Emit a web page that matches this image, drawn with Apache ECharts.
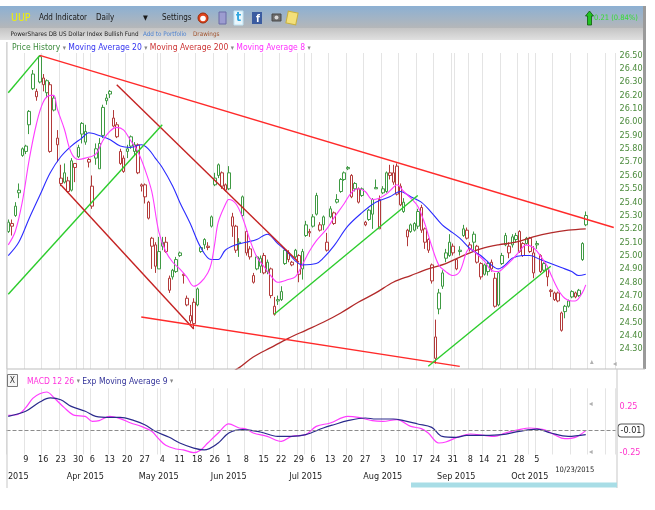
<!DOCTYPE html>
<html>
<head>
<meta charset="utf-8">
<script src="https://cdn.jsdelivr.net/npm/echarts@6/dist/echarts.min.js"></script>
<style>
  html, body { margin: 0; padding: 0; background: #fff; }
  #chart { width: 655px; height: 510px; }
</style>
</head>
<body>
<div id="chart"></div>
<script>
const FONT = '"DejaVu Sans Condensed", "DejaVu Sans", sans-serif';

// trading calendar: from the first bar, 166 priced days + 8 empty days on the right
const firstDay = '2015-03-02';
const totalDays = 174;
const holidays = ['2015-04-03', '2015-05-25', '2015-07-03', '2015-09-07'];
const monthNames = ['Jan', 'Feb', 'Mar', 'Apr', 'May', 'Jun', 'Jul', 'Aug', 'Sep', 'Oct', 'Nov', 'Dec'];

// UUP daily bars: [open, close, low, high]
const candles = [
  [25.18,25.25,25.17,25.27],[25.22,25.24,25.15,25.27],[25.30,25.37,25.29,25.40],[25.49,25.47,25.43,25.54],[25.75,25.80,25.74,25.81],
  [25.78,25.82,25.76,25.83],[25.98,26.08,25.91,26.09],[26.25,26.36,26.24,26.39],[26.19,26.23,26.16,26.25],[26.30,26.49,26.29,26.50],
  [26.33,26.28,26.23,26.36],[26.22,26.31,26.18,26.32],[26.28,25.78,25.77,26.30],[26.09,26.18,26.08,26.20],[25.88,25.83,25.70,25.94],
  [25.58,25.54,25.52,25.68],[25.55,25.62,25.54,25.69],[25.48,25.56,25.47,25.59],[25.49,25.71,25.48,25.73],[25.69,25.66,25.55,25.69],
  [25.74,25.81,25.73,25.83],[25.99,25.91,25.84,26.00],[25.85,25.93,25.83,25.98],[25.70,25.72,25.66,25.73],[25.37,25.52,25.35,25.60],
  [25.73,25.80,25.68,25.84],[25.65,25.84,25.65,25.88],[25.90,26.11,25.88,26.13],[26.16,26.18,26.13,26.21],[26.21,26.23,26.18,26.24],
  [26.03,25.97,25.96,26.09],[25.98,25.89,25.88,26.00],[25.78,25.69,25.68,25.80],[25.73,25.63,25.62,25.75],[25.78,25.80,25.73,25.83],
  [25.89,25.82,25.80,25.90],[25.78,25.83,25.75,25.85],[25.83,25.62,25.61,25.84],[25.53,25.52,25.48,25.54],[25.53,25.44,25.39,25.54],
  [25.40,25.28,25.27,25.41],[25.13,25.07,24.90,25.14],[25.08,24.92,24.87,25.10],[24.90,25.03,24.90,25.14],[25.07,25.10,25.04,25.14],
  [25.10,25.03,25.02,25.14],[24.83,24.74,24.72,24.85],[24.84,24.89,24.82,24.90],[24.88,24.97,24.87,24.99],[25.02,25.00,24.99,25.03],
  [24.86,24.85,24.79,24.87],[24.68,24.63,24.62,24.70],[24.51,24.55,24.49,24.63],[24.65,24.49,24.45,24.68],[24.63,24.75,24.62,24.76],
  [25.06,25.03,25.02,25.07],[25.08,25.12,25.05,25.13],[25.07,25.06,25.04,25.10],[25.22,25.29,25.21,25.30],[25.53,25.58,25.52,25.62],
  [25.68,25.60,25.58,25.69],[25.62,25.52,25.50,25.63],[25.53,25.49,25.48,25.54],[25.50,25.62,25.49,25.67],[25.29,25.22,25.14,25.32],
  [25.22,25.04,25.02,25.23],[25.09,25.10,24.99,25.13],[25.44,25.30,25.29,25.45],[25.18,25.02,25.00,25.19],[25.05,24.99,24.97,25.07],
  [24.80,24.85,24.79,24.87],[24.99,24.90,24.89,25.00],[24.98,24.92,24.87,25.00],[25.00,24.87,24.86,25.02],[24.88,24.95,24.86,24.97],
  [24.90,24.70,24.68,24.91],[24.56,24.62,24.55,24.69],[24.66,24.67,24.63,24.70],[24.67,24.73,24.66,24.77],[24.94,25.04,24.93,25.05],
  [25.02,24.97,24.95,25.04],[24.95,24.93,24.92,24.96],[25.04,24.99,24.98,25.05],[25.00,24.86,24.80,25.01],[24.90,25.03,24.82,25.05],
  [25.15,25.23,25.14,25.26],[25.17,25.18,25.14,25.20],[25.22,25.29,25.21,25.31],[25.45,25.31,25.30,25.47],[25.23,25.19,25.18,25.25],
  [25.23,25.29,25.19,25.30],[25.04,25.10,25.03,25.17],[25.29,25.35,25.28,25.37],[25.24,25.32,25.23,25.33],[25.40,25.42,25.39,25.46],
  [25.48,25.57,25.47,25.58],[25.57,25.62,25.56,25.63],[25.66,25.65,25.64,25.67],[25.60,25.44,25.43,25.61],[25.54,25.50,25.48,25.55],
  [25.50,25.40,25.39,25.51],[25.45,25.50,25.44,25.51],[25.23,25.25,25.22,25.26],[25.34,25.27,25.26,25.35],[25.31,25.42,25.20,25.43],
  [25.51,25.50,25.50,25.57],[25.20,25.42,25.20,25.45],[25.47,25.50,25.46,25.52],[25.48,25.62,25.47,25.63],[25.62,25.60,25.57,25.68],
  [25.62,25.55,25.53,25.68],[25.67,25.46,25.45,25.69],[25.52,25.38,25.37,25.54],[25.33,25.40,25.32,25.43],[25.19,25.14,25.07,25.20],
  [25.23,25.18,25.17,25.24],[25.19,25.24,25.18,25.25],[25.22,25.33,25.20,25.35],[25.36,25.19,25.17,25.38],[25.20,25.10,25.05,25.21],
  [25.12,25.04,25.02,25.13],[24.93,24.81,24.79,24.94],[24.23,24.39,24.19,24.52],[24.60,24.72,24.56,24.75],[24.77,24.87,24.75,24.89],
  [24.98,25.02,24.95,25.05],[25.00,25.10,24.99,25.16],[25.02,25.07,25.00,25.09],[24.97,24.90,24.89,24.98],[25.03,25.04,25.00,25.07],
  [25.20,25.15,25.14,25.23],[25.19,25.13,25.12,25.21],[25.05,25.08,25.03,25.10],[25.16,25.10,25.04,25.18],[25.07,24.95,24.94,25.08],
  [24.94,24.84,24.82,24.95],[24.93,24.86,24.85,24.94],[24.88,24.94,24.85,24.96],[24.95,24.90,24.88,24.97],[24.83,24.62,24.61,24.87],
  [24.63,24.87,24.62,24.88],[24.94,25.00,24.93,25.02],[25.08,25.15,25.07,25.17],[25.02,25.07,24.98,25.10],[25.08,25.14,25.06,25.16],
  [25.12,25.15,25.10,25.17],[25.18,25.03,25.02,25.19],[25.09,25.00,24.99,25.10],[25.09,25.13,25.08,25.14],[25.13,25.03,25.02,25.14],
  [24.87,25.02,24.83,25.07],[25.08,25.09,25.05,25.11],[25.00,24.88,24.87,25.01],[24.94,24.89,24.88,24.95],[24.90,24.84,24.77,24.91],
  [24.74,24.73,24.69,24.75],[24.72,24.67,24.66,24.73],[24.72,24.66,24.65,24.73],[24.57,24.44,24.43,24.58],[24.58,24.62,24.53,24.63],
  [24.62,24.66,24.61,24.67],[24.69,24.73,24.68,24.74],[24.69,24.72,24.68,24.73],[24.70,24.74,24.69,24.75],[24.97,25.09,24.96,25.10],
  [25.23,25.30,25.22,25.33]
];

// moving averages: [day index, value]
const ma20Pts = [[0,25.00],[3,25.10],[6,25.28],[9,25.45],[12,25.62],[15,25.74],[18,25.82],[21,25.88],[23,25.92],[26,25.90],
  [29,25.87],[32,25.82],[35,25.81],[38,25.83],[40,25.80],[42,25.73],[44,25.66],[47,25.52],[49,25.40],[52,25.24],[55,25.06],
  [58,24.97],[60,24.97],[62,25.04],[65,25.08],[68,25.10],[71,25.12],[74,25.16],[77,25.09],[80,25.02],[82,24.96],[84,24.93],
  [88,24.94],[90,24.98],[93,25.07],[97,25.22],[101,25.32],[105,25.40],[109,25.44],[112,25.48],[115,25.44],[118,25.40],
  [121,25.32],[124,25.23],[126,25.19],[129,25.13],[132,25.05],[135,25.00],[138,24.93],[140,24.90],[142,24.93],[144,24.98],
  [147,25.00],[149,25.00],[152,24.97],[155,24.94],[158,24.91],[161,24.88],[163,24.85],[165,24.86]];
const ma8Pts = [[0,25.08],[2,25.18],[4,25.40],[6,25.72],[8,25.98],[10,26.15],[12,26.20],[13,26.20],[14,26.10],[16,25.95],
  [18,25.77],[20,25.72],[22,25.73],[25,25.76],[27,25.86],[29,25.93],[31,25.96],[33,25.94],[35,25.86],[37,25.78],[39,25.65],
  [41,25.48],[43,25.18],[45,25.03],[47,24.95],[49,24.90],[51,24.84],[53,24.77],[55,24.80],[57,24.87],[58,24.94],[59,25.09],
  [60,25.25],[62,25.38],[63,25.42],[65,25.39],[67,25.28],[69,25.12],[71,24.99],[73,24.92],[75,24.85],[77,24.80],[80,24.82],
  [82,24.84],[84,24.93],[86,25.03],[88,25.11],[91,25.20],[93,25.28],[96,25.39],[98,25.47],[100,25.50],[102,25.48],[104,25.42],
  [106,25.43],[108,25.46],[110,25.51],[111,25.53],[113,25.48],[115,25.43],[117,25.37],[119,25.24],[121,25.07],[123,24.93],
  [125,24.88],[127,24.85],[129,24.88],[131,25.03],[132,25.05],[134,25.01],[136,24.96],[138,24.89],[140,24.88],[142,24.92],
  [144,24.97],[146,25.03],[148,25.08],[150,25.06],[152,25.00],[154,24.92],[155,24.86],[157,24.75],[159,24.68],[161,24.66],
  [162,24.66],[164,24.72],[165,24.78]];
const ma200Pts = [[62,24.10],[66,24.16],[70,24.24],[75,24.31],[80,24.38],[85,24.44],[90,24.50],[95,24.57],[100,24.65],
  [105,24.72],[110,24.80],[115,24.85],[120,24.90],[125,24.94],[130,25.00],[135,25.05],[140,25.08],[145,25.10],[150,25.14],
  [155,25.17],[160,25.19],[165,25.20]];

// MACD 12 26 and its 9-day EMA: [day index, value]
const macdPts = [[0,0.155],[3,0.17],[5,0.24],[7,0.34],[9,0.39],[11,0.41],[13,0.35],[16,0.24],[19,0.155],[22,0.145],
  [24,0.09],[26,0.098],[29,0.145],[32,0.12],[35,0.073],[38,0.036],[41,-0.018],[43,-0.10],[45,-0.17],[48,-0.21],[50,-0.22],
  [53,-0.25],[55,-0.22],[57,-0.145],[60,-0.036],[63,0.062],[66,0.018],[68,0.007],[70,-0.036],[74,-0.073],[78,-0.127],
  [81,-0.073],[85,-0.054],[88,0.036],[92,0.073],[97,0.145],[100,0.134],[104,0.098],[107,0.09],[111,0.109],[115,0.036],
  [118,0.011],[120,-0.036],[123,-0.145],[125,-0.134],[129,-0.073],[132,-0.047],[136,-0.062],[139,-0.073],[142,-0.036],
  [146,0],[149,0.018],[153,0],[156,-0.054],[159,-0.098],[162,-0.084],[165,-0.01]];
const signalPts = [[0,0.145],[5,0.20],[9,0.30],[12,0.345],[15,0.326],[18,0.253],[22,0.20],[25,0.145],[29,0.134],[32,0.134],
  [36,0.098],[39,0.054],[42,-0.018],[46,-0.083],[49,-0.145],[53,-0.20],[56,-0.22],[60,-0.145],[63,-0.036],[67,0],[72,-0.025],
  [77,-0.073],[81,-0.073],[85,-0.054],[90,0.018],[93,0.054],[97,0.098],[102,0.127],[105,0.116],[110,0.116],[113,0.098],
  [117,0.062],[121,0.025],[124,-0.073],[128,-0.083],[131,-0.062],[136,-0.062],[141,-0.054],[146,-0.018],[151,0.007],
  [155,-0.036],[160,-0.073],[165,-0.054]];

// hand drawn trend lines: [day index, price] at each end
const trendGreenA = [[0,26.22],[9,26.50]];
const trendRedTop = [[9,26.50],[173,25.21]];
const trendRedDiagA = [[31,26.28],[83,24.95]];
const trendGreenB = [[0,24.71],[44,25.98]];
const trendRedDiagB = [[15,25.53],[53,24.45]];
const trendRedLow = [[38,24.54],[129,24.17]];
const trendGreenC = [[76,24.56],[117,25.45]];
const trendGreenD = [[120,24.17],[155,24.92]];

// ---- calendar ----
const dates = [];
for (let d = new Date(firstDay + 'T00:00:00Z'); dates.length < totalDays; d.setUTCDate(d.getUTCDate() + 1)) {
  const iso = d.toISOString().slice(0, 10);
  const wd = d.getUTCDay();
  if (wd !== 0 && wd !== 6 && !holidays.includes(iso)) dates.push(iso);
}
const info = dates.map((s, i) => {
  const cur = new Date(s + 'T00:00:00Z');
  const prev = i ? new Date(dates[i - 1] + 'T00:00:00Z') : null;
  return {
    day: cur.getUTCDate(), month: cur.getUTCMonth(), year: cur.getUTCFullYear(),
    weekStart: !prev || cur.getUTCDay() <= prev.getUTCDay(),
    monthStart: !prev || cur.getUTCMonth() !== prev.getUTCMonth()
  };
});
const lastIdx = candles.length - 1;
const lastClose = candles[lastIdx][1];
const lastMacd = macdPts[macdPts.length - 1][1];

const gridLineAt = i => info[i].weekStart || info[i].monthStart;
const dayLabelAt = i => (info[i].weekStart && i > 0 && i < lastIdx - 10) || i === lastIdx;
const monthLabelAt = i => info[i].monthStart && i <= lastIdx;
const dayLabel = (v, i) => {
  if (i === lastIdx) {
    const t = info[i];
    return '{s|' + (t.month + 1) + '/' + t.day + '/' + t.year + '}';
  }
  return String(info[i].day);
};
const monthLabel = (v, i) => {
  const t = info[i];
  if (!monthLabelAt(i)) return '';
  return i === 0 ? '{c|' + t.year + '}' : monthNames[t.month] + ' ' + t.year;
};

// hollow = closed above open, colour = versus previous close
const candleData = candles.map((c, i) => {
  const prevClose = i ? candles[i - 1][1] : c[0];
  const up = c[1] >= prevClose;
  const fill = up ? '#1f7a22' : '#8b0a0a';
  const edge = up ? '#3f9a43' : '#b23a3a';
  return { value: c, itemStyle: { color: '#ffffff', color0: fill, borderColor: edge, borderColor0: fill } };
});

function maLine(name, pts, color, width) {
  return {
    name, type: 'line', xAxisIndex: 0, yAxisIndex: 0, data: pts, smooth: 0.35,
    symbol: 'none', z: 3, lineStyle: { color, width }
  };
}
function trendLine(pts, color, dots) {
  return {
    type: 'line', xAxisIndex: 0, yAxisIndex: 0, z: 4, symbol: 'emptyCircle', symbolSize: 5,
    itemStyle: { color: '#999' }, lineStyle: { color, width: 1.4 },
    data: pts.map((p, k) => ({ value: p, symbol: dots[k] ? 'emptyCircle' : 'none' }))
  };
}

const chart = echarts.init(document.getElementById('chart'));

const grad = (a, b) => new echarts.graphic.LinearGradient(0, 0, 0, 1, [{ offset: 0, color: a }, { offset: 1, color: b }]);
const text = (x, y, t, fill, size, extra) => ({
  type: 'text', x, y, z: 10,
  style: Object.assign({ text: t, fill, fontSize: size, fontFamily: FONT, verticalAlign: 'middle' }, extra || {})
});
const rect = (x, y, w, h, style, z) => ({ type: 'rect', z: z || 10, shape: { x, y, width: w, height: h }, style });

const option = {
  animation: false,
  backgroundColor: '#ffffff',
  textStyle: { fontFamily: FONT },
  grid: [
    { left: 6.5, right: 39.5, top: 42, bottom: 141 },
    { left: 6.5, right: 39.5, top: 388.3, bottom: 55.5 }
  ],
  xAxis: [
    {
      type: 'category', gridIndex: 0, data: dates, boundaryGap: true,
      axisLine: { show: false }, axisTick: { show: false }, axisLabel: { show: false },
      splitLine: { show: true, interval: gridLineAt, lineStyle: { color: '#e4e4e4', width: 1 } }
    },
    {
      type: 'category', gridIndex: 1, position: 'bottom', data: dates, boundaryGap: true,
      axisLine: { show: false }, axisTick: { show: false },
      axisLabel: {
        interval: dayLabelAt, formatter: dayLabel, color: '#222', fontSize: 9, margin: 1,
        rich: { s: { fontSize: 7.5, color: '#222', padding: [11, 22, 0, 0] } }
      },
      splitLine: { show: true, interval: gridLineAt, lineStyle: { color: '#e4e4e4', width: 1 } }
    },
    {
      type: 'category', gridIndex: 1, position: 'bottom', data: dates, boundaryGap: true, offset: 17,
      axisLine: { show: false }, axisTick: { show: false }, splitLine: { show: false },
      axisLabel: {
        interval: monthLabelAt, formatter: monthLabel, color: '#222', fontSize: 9, margin: 1,
        rich: { c: { fontSize: 9, color: '#222', padding: [0, 0, 0, 20] } }
      }
    }
  ],
  yAxis: [
    {
      type: 'value', gridIndex: 0, position: 'right', min: 24.15, max: 26.6, interval: 0.05,
      axisLine: { show: false }, axisTick: { show: false }, splitLine: { show: false },
      axisLabel: {
        margin: 4, color: '#4b8b3b', fontSize: 9,
        formatter: v => {
          const c = Math.round(v * 100);
          return c % 10 === 0 && c > 2420 && c < 2660 ? (c / 100).toFixed(2) : '';
        }
      }
    },
    {
      type: 'value', gridIndex: 1, position: 'right', min: -0.27, max: 0.45, interval: 0.01,
      axisLine: { show: false }, axisTick: { show: false }, splitLine: { show: false },
      axisLabel: {
        margin: 4, color: '#ff33cc', fontSize: 9,
        formatter: v => (Math.abs(Math.round(v * 100)) === 25 ? v.toFixed(2) : '')
      }
    }
  ],
  series: [
    {
      name: 'Price History', type: 'candlestick', xAxisIndex: 0, yAxisIndex: 0, data: candleData,
      barWidth: 3, z: 2, itemStyle: { borderWidth: 1 },
      markLine: {
        silent: true, symbol: 'none', lineStyle: { opacity: 0 },
        label: {
          position: 'end', distance: 3, formatter: p => p.value.toFixed(2), color: '#222', fontSize: 10,
          backgroundColor: '#fff', borderColor: '#555', borderWidth: 1, borderRadius: 3, padding: [2, 2, 1, 2]
        },
        data: [{ yAxis: lastClose }]
      }
    },
    maLine('Moving Average 200', ma200Pts, '#b22a2a', 1.3),
    maLine('Moving Average 20', ma20Pts, '#2b2bff', 1.1),
    maLine('Moving Average 8', ma8Pts, '#ff3cff', 1.1),
    trendLine(trendGreenA, '#2ccc2c', [false, false]),
    trendLine(trendRedTop, '#ff2a2a', [false, true]),
    trendLine(trendRedDiagA, '#c42222', [true, false]),
    trendLine(trendGreenB, '#2ccc2c', [false, true]),
    trendLine(trendRedDiagB, '#c42222', [true, true]),
    trendLine(trendRedLow, '#ff2a2a', [true, false]),
    trendLine(trendGreenC, '#2ccc2c', [true, true]),
    trendLine(trendGreenD, '#2ccc2c', [true, true]),
    {
      name: 'MACD 12 26', type: 'line', xAxisIndex: 1, yAxisIndex: 1, data: macdPts, smooth: 0.35,
      symbol: 'none', z: 3, lineStyle: { color: '#ff3cff', width: 1.2 },
      markLine: {
        silent: true, symbol: 'none', lineStyle: { color: '#8c8c8c', type: 'dashed', width: 1 },
        label: {
          position: 'end', distance: 3, formatter: p => p.value.toFixed(2), color: '#222', fontSize: 9,
          backgroundColor: '#fff', borderColor: '#555', borderWidth: 1, borderRadius: 3, padding: [2, 2, 1, 2]
        },
        data: [{ yAxis: lastMacd }]
      }
    },
    {
      name: 'Exp Moving Average 9', type: 'line', xAxisIndex: 1, yAxisIndex: 1, data: signalPts, smooth: 0.35,
      symbol: 'none', z: 3, lineStyle: { color: '#2a2a8c', width: 1.2 }
    }
  ],
  graphic: {
    elements: [
      // toolbar
      rect(0, 6, 644, 22, { fill: grad('#8cb0d3', '#b5b7b9') }),
      rect(0, 28, 644, 12, { fill: grad('#c4c4c4', '#e0e0e0') }),
      text(11, 18, 'UUP', '#f2f200', 10.5),
      text(39, 18, 'Add Indicator', '#1a1a1a', 8),
      text(96, 18, 'Daily', '#1a1a1a', 8),
      text(143, 18, '▼', '#1a1a1a', 7),
      text(162, 18, 'Settings', '#1a1a1a', 8),
      { type: 'circle', z: 10, shape: { cx: 203, cy: 18, r: 5 }, style: { fill: '#e0431c', stroke: '#9a2a08' } },
      { type: 'circle', z: 11, shape: { cx: 203, cy: 18.5, r: 2.8 }, style: { fill: '#fff' } },
      rect(219, 12, 7, 12, { fill: '#9c9cd0', stroke: '#6a6aa6' }),
      rect(234, 11, 9, 14, { fill: '#eaf7fd', stroke: '#bfe3f3' }),
      text(236, 18, 't', '#2ea6e0', 12, { fontWeight: 'bold' }),
      rect(252, 12, 10, 12, { fill: '#3b5ca0' }),
      text(256, 19, 'f', '#ffffff', 10, { fontWeight: 'bold' }),
      rect(272, 14, 9, 7, { fill: '#6d6d6d', stroke: '#4a4a4a' }),
      { type: 'circle', z: 11, shape: { cx: 276.5, cy: 17.5, r: 2 }, style: { fill: '#d8d8d8' } },
      { type: 'rect', z: 10, rotation: -0.2, originX: 292, originY: 18, shape: { x: 287, y: 12, width: 10, height: 12 },
        style: { fill: '#f3e07a', stroke: '#c8b040' } },
      { type: 'polygon', z: 10, shape: { points: [[589.5, 11], [593.5, 16], [591.5, 16], [591.5, 25], [587.5, 25], [587.5, 16], [585.5, 16]] },
        style: { fill: '#22c322', stroke: '#0c5a0c', lineWidth: 0.8 } },
      text(594, 18.5, '0.21 (0.84%)', '#33dd33', 7.5),
      text(10.5, 34.5, 'PowerShares DB US Dollar Index Bullish Fund', '#222', 6.3),
      text(143, 34.5, 'Add to Portfolio', '#4a80d0', 6.3),
      text(193, 34.5, 'Drawings', '#a0522d', 6.3),
      // price panel header
      rect(7, 41, 609, 12, { fill: '#ffffff' }, 1),
      text(12, 48, '{g|Price History} {a|▾} {b|Moving Average 20} {a|▾} {r|Moving Average 200} {a|▾} {p|Moving Average 8} {a|▾}', '#333', 8.5, {
        rich: {
          g: { fill: '#3d8b3d', fontSize: 8.5, fontFamily: FONT },
          b: { fill: '#3434f0', fontSize: 8.5, fontFamily: FONT },
          r: { fill: '#cc3333', fontSize: 8.5, fontFamily: FONT },
          p: { fill: '#ff30ff', fontSize: 8.5, fontFamily: FONT },
          a: { fill: '#888', fontSize: 7, fontFamily: FONT }
        }
      }),
      // frame lines
      rect(643, 6, 3, 363, { fill: '#9a9a9a' }),
      rect(7, 368.5, 638, 1, { fill: '#bdbdbd' }),
      rect(6.5, 42, 1, 446, { fill: '#c8c8c8' }),
      rect(616.5, 369, 1, 119, { fill: '#c8c8c8' }),
      rect(411, 482.5, 206, 5, { fill: '#a8dde6' }),
      text(590, 362, '▴', '#b0b0b0', 8),
      text(613, 364, '◂', '#b0b0b0', 8),
      text(589, 404, '◂', '#b0b0b0', 8),
      text(589, 452, '◂', '#b0b0b0', 8),
      // MACD panel header
      rect(7.5, 374.5, 10, 12, { fill: '#f6f6f6', stroke: '#777' }),
      text(9.8, 381, 'X', '#333', 8.5),
      text(27, 381.5, '{m|MACD 12 26} {a|▾} {e|Exp Moving Average 9} {a|▾}', '#333', 8.5, {
        rich: {
          m: { fill: '#ff33dd', fontSize: 8.5, fontFamily: FONT },
          e: { fill: '#333399', fontSize: 8.5, fontFamily: FONT },
          a: { fill: '#888', fontSize: 7, fontFamily: FONT }
        }
      })
    ]
  }
};

chart.setOption(option);
</script>
</body>
</html>
